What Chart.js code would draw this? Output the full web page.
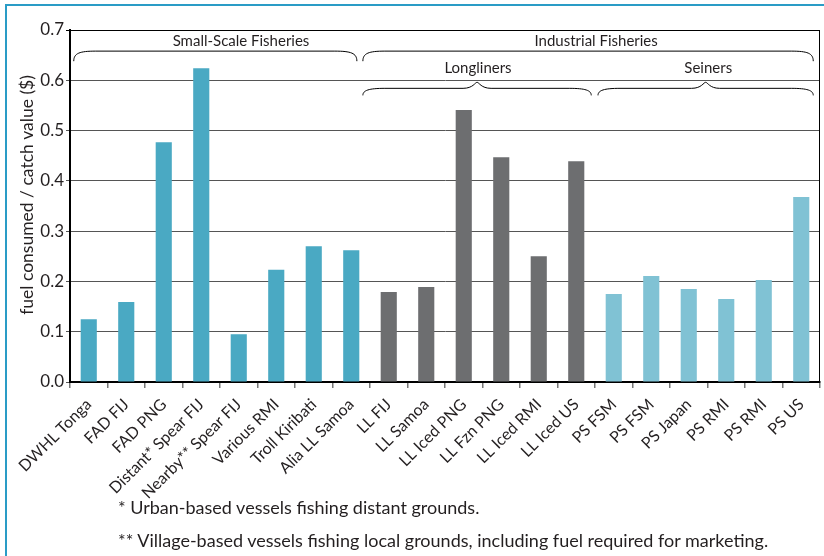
<!DOCTYPE html>
<html>
<head>
<meta charset="utf-8">
<script src="https://cdn.jsdelivr.net/npm/chart.js@4"></script>
<style>
  html, body { margin: 0; padding: 0; background: #fff; }
  body { width: 824px; height: 556px; position: relative; overflow: hidden; font-family: Lato, sans-serif; }
  #frame { position: absolute; left: 5px; top: 4px; width: 840px; height: 580px; border: 2px solid #2a9cc6; box-sizing: border-box; }
  #wrap { position: absolute; left: 0; top: 0; width: 824px; height: 556px; }
  .note { position: absolute; left: 118px; font-size: 18px; color: #231f20; white-space: nowrap; }
</style>
</head>
<body>
<div id="frame"></div>
<div id="wrap"><canvas id="fuelChart" width="824" height="556"></canvas></div>
<div class="note" style="top: 496px;">* Urban-based vessels fishing distant grounds.</div>
<div class="note" style="top: 529px;">** Village-based vessels fishing local grounds, including fuel required for marketing.</div>
<script>
const categories = ['DWHL Tonga', 'FAD FIJ', 'FAD PNG', 'Distant* Spear FIJ', 'Nearby** Spear FIJ', 'Various RMI',
    'Troll Kiribati', 'Alia LL Samoa', 'LL FIJ', 'LL Samoa', 'LL Iced PNG', 'LL Fzn PNG', 'LL Iced RMI', 'LL Iced US',
    'PS FSM', 'PS FSM', 'PS Japan', 'PS RMI', 'PS RMI', 'PS US'];
const fuelRatio = [0.125, 0.159, 0.477, 0.624, 0.095, 0.223, 0.270, 0.262, 0.179, 0.189,
    0.541, 0.447, 0.250, 0.439, 0.175, 0.211, 0.185, 0.165, 0.203, 0.368];
const fleetType = ['small', 'small', 'small', 'small', 'small', 'small', 'small', 'small',
    'longline', 'longline', 'longline', 'longline', 'longline', 'longline',
    'seine', 'seine', 'seine', 'seine', 'seine', 'seine'];
const yTicks = [0, 0.1, 0.2, 0.3, 0.4, 0.5, 0.6, 0.7];
const yTitle = 'fuel consumed / catch value ($)';

// group brackets above the bars (from/to in category units)
const braceLabels = ['Small-Scale Fisheries', 'Industrial Fisheries', 'Longliners', 'Seiners'];
const braceFrom = [-0.4, 7.31, 7.31, 13.58];
const braceTo = [7.15, 19.32, 13.4, 19.32];
const braceLabelAt = [4.06, 13.53, 10.38, 16.52];

const colours = { small: '#4aa9c3', longline: '#6d6e70', seine: '#80c2d4' };
const textColour = '#231f20';

const bracePlugin = {
    id: 'braces',
    afterDraw(chart) {
        const ctx = chart.ctx;
        const x = chart.scales.x, y = chart.scales.y;
        const area = chart.chartArea;

        // box round the plot
        ctx.save();
        ctx.strokeStyle = '#000';
        ctx.lineWidth = 1;
        ctx.beginPath();
        ctx.moveTo(area.left, area.top + 0.5);
        ctx.lineTo(area.right - 0.5, area.top + 0.5);
        ctx.lineTo(area.right - 0.5, area.bottom);
        ctx.stroke();

        // y axis title, sits a bit above the middle like the original
        ctx.save();
        ctx.translate(27, y.getPixelForValue(0.372));
        ctx.rotate(-Math.PI / 2);
        ctx.fillStyle = textColour;
        ctx.font = '17.5px Lato';
        ctx.textAlign = 'center';
        ctx.textBaseline = 'middle';
        ctx.fillText(yTitle, 0, 0);
        ctx.restore();

        ctx.fillStyle = textColour;
        ctx.font = '15px Lato';
        ctx.textAlign = 'center';
        ctx.textBaseline = 'middle';
        for (let i = 0; i < braceLabels.length; i++) {
            const top = i < 2;
            const x1 = x.getPixelForValue(braceFrom[i]);
            const x2 = x.getPixelForValue(braceTo[i]);
            const yFlat = y.getPixelForValue(top ? 0.658 : 0.584);
            const yEnd = y.getPixelForValue(top ? 0.638 : 0.570);
            const yLab = y.getPixelForValue(top ? 0.678 : 0.624);
            ctx.beginPath();
            ctx.moveTo(x1, yEnd);
            ctx.bezierCurveTo(x1, yFlat + 2, x1 + 6, yFlat, x1 + 22, yFlat);
            if (!top) {
                const mid = (x1 + x2) / 2;
                const yPeak = y.getPixelForValue(0.596);
                ctx.lineTo(mid - 14, yFlat);
                ctx.bezierCurveTo(mid - 4, yFlat, mid - 2, yPeak, mid, yPeak);
                ctx.bezierCurveTo(mid + 2, yPeak, mid + 4, yFlat, mid + 14, yFlat);
            }
            ctx.lineTo(x2 - 22, yFlat);
            ctx.bezierCurveTo(x2 - 6, yFlat, x2, yFlat + 2, x2, yEnd);
            ctx.stroke();
            ctx.fillText(braceLabels[i], x.getPixelForValue(braceLabelAt[i]), yLab);
        }
        ctx.restore();
    }
};

const ctx = document.getElementById('fuelChart').getContext('2d');
new Chart(ctx, {
    type: 'bar',
    data: {
        labels: categories,
        datasets: [{
            data: fuelRatio,
            backgroundColor: fleetType.map(t => colours[t]),
            barPercentage: 0.43,
            categoryPercentage: 1
        }]
    },
    options: {
        responsive: false,
        animation: false,
        layout: { padding: { top: 30, right: 4, left: 0, bottom: 0 } },
        plugins: { legend: { display: false }, tooltip: { enabled: false } },
        scales: {
            x: {
                afterFit: s => { s.height = 174; },
                border: { color: '#000', width: 2 },
                grid: { drawOnChartArea: false, drawTicks: true, tickLength: 6, color: '#777', lineWidth: 1.5 },
                ticks: {
                    minRotation: 45, maxRotation: 45, autoSkip: false, padding: 7,
                    color: textColour, font: { family: 'Lato', size: 16 }
                }
            },
            y: {
                min: 0, max: 0.7,
                afterFit: s => { s.width = 70; },
                afterBuildTicks: s => { s.ticks = yTicks.map(v => ({ value: v })); },
                border: { color: '#000', width: 2 },
                grid: {
                    color: c => (c.tick && c.tick.value === 0.7) ? '#000' : '#555',
                    lineWidth: 1, tickLength: 4
                },
                ticks: {
                    padding: 2, color: textColour, font: { family: 'Lato', size: 17 },
                    callback: v => v.toFixed(1)
                }
            }
        }
    },
    plugins: [bracePlugin]
});
</script>
</body>
</html>
